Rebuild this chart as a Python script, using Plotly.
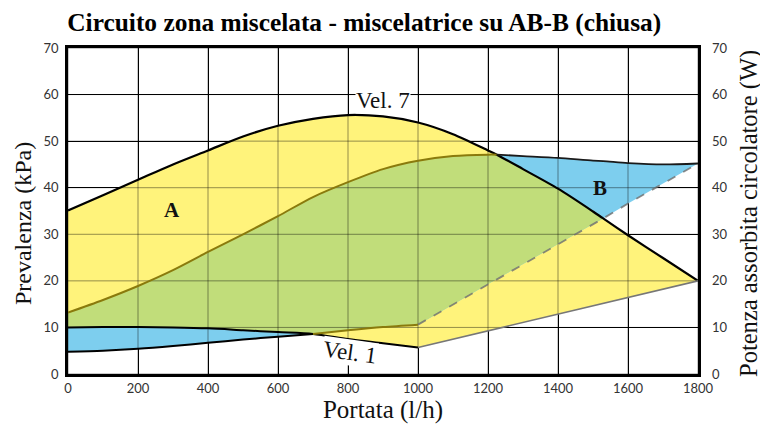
import numpy as np
import plotly.graph_objects as go

# Portata (l/h) sample points, shared by every curve
PORTATA = [0, 100, 200, 300, 400, 500, 600, 700, 800, 900, 1000, 1100, 1200, 1225,
           1300, 1400, 1500, 1529, 1600, 1700, 1800]

# Prevalenza curves (kPa)
PREV_VEL7 = [35.1, 38.4, 41.7, 45.0, 48.0, 51.0, 53.3, 54.8, 55.6, 55.3, 54.0, 51.5, 48.0, 47.1,
             44.0, 39.8, 34.9, 33.4, 29.8, 24.9, 20.0]
PREV_VEL1 = [10.0, 10.1, 10.1, 10.0, 9.8, 9.4, 9.0, 8.6, 7.5, 6.6, 5.7, 7.5, 9.3, 9.7,
             11.1, 12.9, 14.7, 15.2, 16.4, 18.2, 20.0]

# Potenza assorbita curves (W)
POT_VEL7 = [13.2, 15.9, 18.9, 22.3, 26.2, 30.0, 33.9, 38.0, 41.2, 44.0, 45.8, 46.8, 47.1, 47.1,
            46.8, 46.4, 45.8, 45.7, 45.3, 45.0, 45.2]
POT_VEL1 = [4.8, 5.0, 5.4, 6.0, 6.7, 7.4, 8.0, 8.6, 9.4, 10.1, 10.6, 14.9, 19.3, 20.4,
            23.6, 27.9, 32.2, 33.4, 36.6, 40.9, 45.2]

X_TICKS = [0, 200, 400, 600, 800, 1000, 1200, 1400, 1600, 1800]
Y_TICKS = [0, 10, 20, 30, 40, 50, 60, 70]

YELLOW = '#FFF37B'
BLUE = '#7DCEEE'
GREEN = '#C1DD7A'
OLIVE = '#8A7A0C'

SERIF = 'Liberation Serif, Times New Roman, serif'
SANS = 'Lato'

x = np.array(PORTATA, dtype=float)
p7, p1 = np.array(PREV_VEL7), np.array(PREV_VEL1)
w7, w1 = np.array(POT_VEL7), np.array(POT_VEL1)

fig = go.Figure()


def band(xs, top, bottom, color):
    fig.add_trace(go.Scatter(
        x=np.concatenate([xs, xs[::-1]]),
        y=np.concatenate([top, bottom[::-1]]),
        fill='toself', fillcolor=color, mode='none', hoverinfo='skip'
    ))


def curve(mask, ys, color, width=2, dash='solid', shape='spline'):
    fig.add_trace(go.Scatter(
        x=x[mask], y=ys[mask], mode='lines',
        line=dict(color=color, width=width, dash=dash, shape=shape, smoothing=0.8),
        hoverinfo='skip'
    ))


# zone A (prevalenza) and zone B (potenza), overlap in green
band(x, p7, p1, YELLOW)
band(x, w7, w1, BLUE)
both = x <= 1529
band(x[both], np.minimum(p7, w7)[both], np.maximum(p1, w1)[both], GREEN)

# grid showing through the coloured zones
gx, gy = [], []
for t in X_TICKS:
    gx += [t, t, None]
    gy += [0, 70, None]
for t in Y_TICKS:
    gx += [0, 1800, None]
    gy += [t, t, None]
fig.add_trace(go.Scatter(x=gx, y=gy, mode='lines', hoverinfo='skip',
                         line=dict(color='rgba(0,0,0,0.42)', width=1)))

# curves
curve(x >= 0, p7, 'black', 2.2)
curve(x <= 1000, p1, 'black', 2)
curve(x >= 1000, p1, '#777777', 1.6, shape='linear')
curve(x <= 1225, w7, OLIVE, 2)
curve(x >= 1225, w7, '#1a1a1a', 1.8)
curve(x <= 700, w1, 'black', 2)
curve((x >= 700) & (x <= 1000), w1, OLIVE, 2)
curve(x >= 1000, w1, 'rgba(110,110,110,0.8)', 1.8, 'dash', shape='linear')

# invisible trace to hold the right axis
fig.add_trace(go.Scatter(x=[0], y=[0], yaxis='y2', mode='none', hoverinfo='skip'))

fig.add_annotation(x=901, y=58.8, text='Vel. 7', showarrow=False, bgcolor='white',
                   borderpad=0, font=dict(family=SERIF, size=23, color='#111'))
fig.add_annotation(x=805, y=4.6, text='Vel. 1', showarrow=False, textangle=8,
                   bgcolor='white', borderpad=0,
                   font=dict(family=SERIF, size=23, color='#111'))
fig.add_annotation(x=297, y=35.2, text='<b>A</b>', showarrow=False,
                   font=dict(family=SERIF, size=21, color='#111'))
fig.add_annotation(x=1520, y=39.9, text='<b>B</b>', showarrow=False,
                   font=dict(family=SERIF, size=21, color='#111'))

# axis titles placed as annotations (the left one sits a little below centre)
fig.add_annotation(xref='paper', x=-0.0714, xanchor='center', y=32.2,
                   text='Prevalenza (kPa)', textangle=-90, showarrow=False,
                   font=dict(family=SERIF, size=24, color='#111'))
fig.add_annotation(xref='paper', x=1.082, xanchor='center', y=34.5,
                   text='Potenza assorbita circolatore (W)', textangle=-90, showarrow=False,
                   font=dict(family=SERIF, size=24.5, color='#111'))

tick_font = dict(family=SANS, size=13, color='#333')

# the page body adds an 8 px offset, so the figure is sized a bit smaller
fig.update_layout(
    width=760, height=422,
    margin=dict(l=60, r=70, t=40, b=56),
    font=dict(family=SERIF, color='#111'),
    paper_bgcolor='white', plot_bgcolor='white',
    showlegend=False,
    title=dict(text='<b>Circuito zona miscelata - miscelatrice su AB-B (chiusa)</b>',
               x=0.078, xanchor='left', y=0.966, yanchor='middle',
               font=dict(family=SERIF, size=25.4, color='black')),
    xaxis=dict(
        range=[0, 1800], tickvals=X_TICKS, showgrid=True, gridcolor='black', gridwidth=1,
        zeroline=False, showline=True, linecolor='black', linewidth=2.5, mirror=True,
        tickfont=tick_font, ticks='', automargin=False, ticklabelstandoff=1,
        title=dict(text='Portata (l/h)', font=dict(family=SERIF, size=25, color='#111'),
                   standoff=6),
    ),
    yaxis=dict(
        range=[0, 70], tickvals=Y_TICKS, showgrid=True, gridcolor='black', gridwidth=1,
        zeroline=False, showline=True, linecolor='black', linewidth=2.5, mirror=True,
        tickfont=tick_font, ticks='', automargin=False, ticklabelstandoff=4,
    ),
    yaxis2=dict(
        range=[0, 70], tickvals=Y_TICKS, showgrid=False, zeroline=False,
        overlaying='y', side='right', tickfont=tick_font, ticks='', automargin=False,
        ticklabelstandoff=13,
    ),
)

fig.write_html("out.html")
